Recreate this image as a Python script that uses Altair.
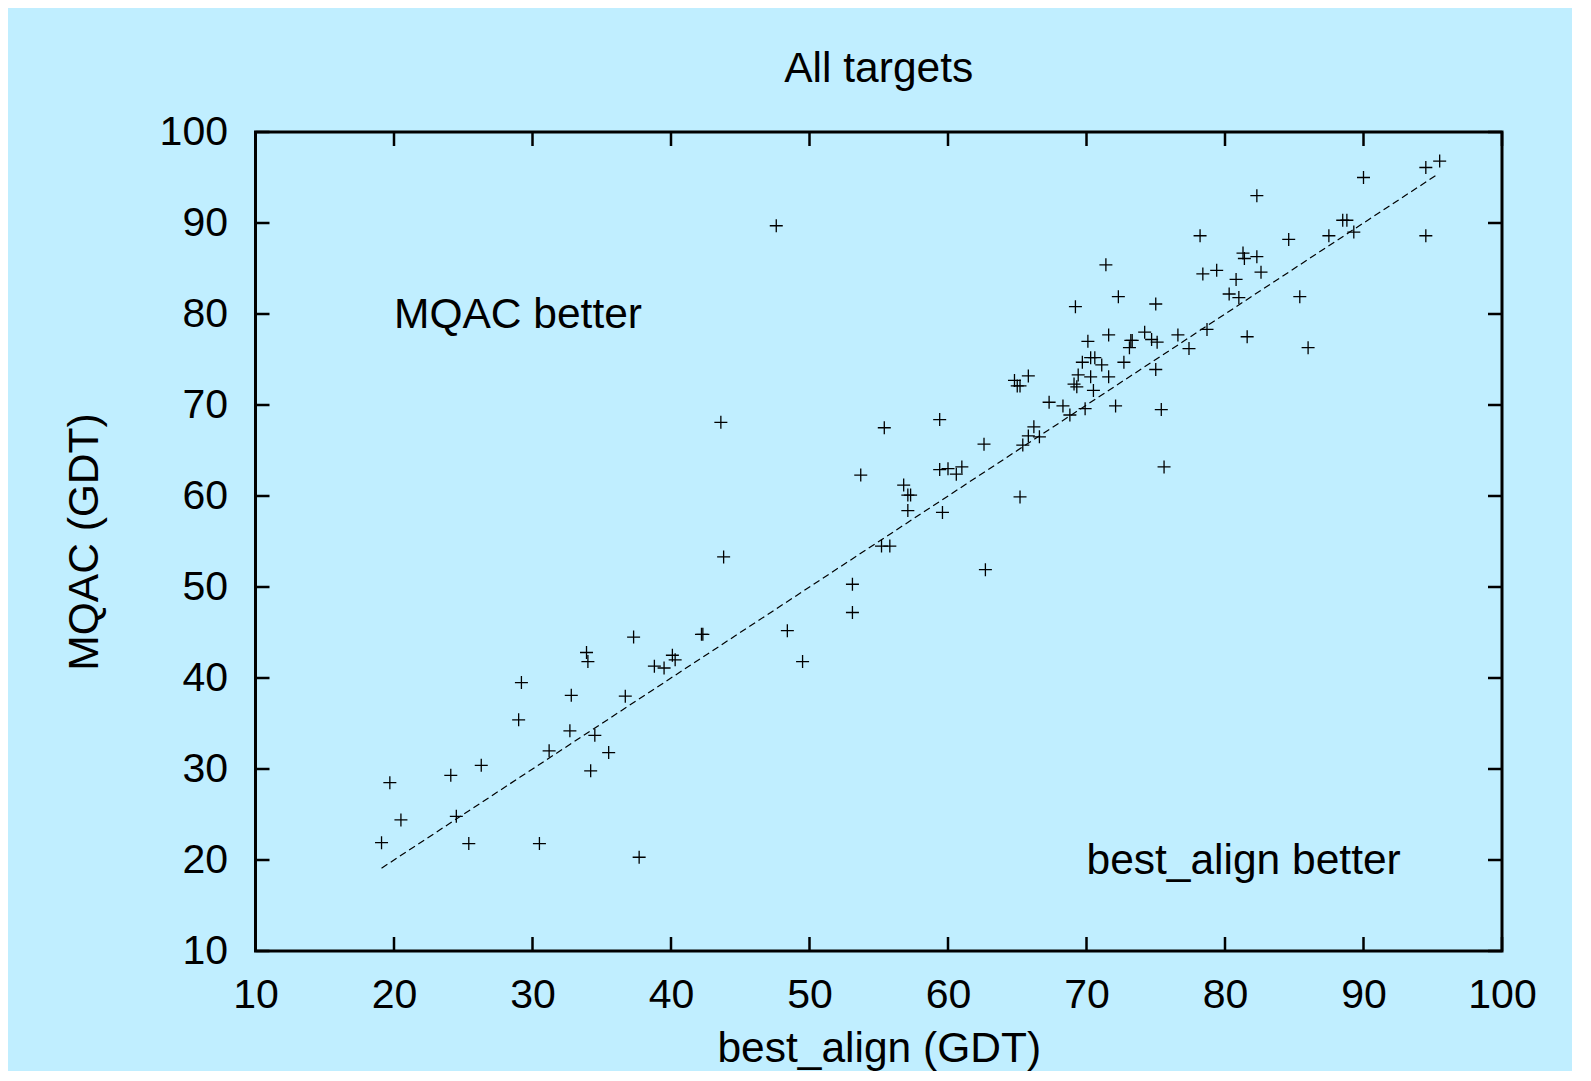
import altair as alt
import pandas as pd

# ---- data ----
best_align = [47.6, 71.4, 72.3, 69.2, 75.0, 78.2, 78.4, 79.4, 80.8, 80.3, 81.0, 81.3, 81.4, 82.3, 82.3,
              81.6, 78.7, 77.4, 76.6, 75.0, 75.4, 75.6, 72.1, 74.2, 74.7, 75.1, 73.3, 73.2, 73.1, 72.7,
              71.6, 70.1, 70.3, 70.6, 71.1, 69.7, 69.4, 70.3, 71.6, 69.1, 69.3, 70.5, 67.3, 68.3, 68.8,
              69.9, 64.8, 65.0, 65.2, 65.8, 66.2, 65.8, 66.6, 65.4, 62.6, 59.4, 55.4, 53.7, 56.8, 57.1,
              57.3, 57.1, 59.6, 59.4, 60.0, 60.6, 61.0, 65.2, 84.6, 87.5, 88.5, 88.8, 89.3, 90.0, 94.5,
              95.5, 94.5, 85.4, 86.0, 82.6, 43.8, 37.3, 42.2, 42.3, 33.9, 34.0, 40.1, 40.3, 38.8, 39.5,
              29.2, 32.8, 36.7, 29.0, 32.7, 34.5, 31.2, 35.5, 34.2, 26.3, 24.1, 19.7, 20.5, 24.5, 19.1,
              25.4, 30.5, 37.7, 55.2, 55.8, 62.7, 53.1, 53.1, 48.4, 49.5, 43.6]
mqac = [89.7, 85.4, 81.9, 80.8, 81.1, 88.6, 84.4, 84.8, 83.8, 82.2, 81.8, 86.7, 86.1, 86.3, 93.0,
        77.5, 78.3, 76.2, 77.7, 73.9, 69.5, 63.2, 69.9, 78.0, 77.2, 76.9, 77.1, 77.1, 76.3, 74.7,
        77.7, 77.0, 75.2, 75.2, 74.4, 74.7, 73.3, 73.1, 73.1, 72.3, 72.0, 71.6, 70.3, 69.9, 68.9,
        69.6, 72.7, 72.1, 72.1, 73.2, 67.6, 66.6, 66.5, 65.6, 65.7, 68.4, 67.5, 62.3, 61.2, 60.1,
        60.1, 58.4, 58.2, 62.9, 63.0, 62.4, 63.2, 59.9, 88.2, 88.6, 90.3, 90.3, 89.0, 95.0, 96.1,
        96.8, 88.6, 81.9, 76.3, 84.6, 53.3, 44.5, 44.8, 44.8, 42.8, 41.8, 42.5, 42.0, 41.3, 41.1,
        39.5, 38.1, 38.0, 35.4, 34.2, 33.7, 32.0, 31.8, 29.8, 30.4, 29.3, 28.5, 24.4, 24.8, 21.9,
        21.8, 21.8, 20.3, 54.5, 54.5, 51.9, 50.3, 47.2, 45.2, 41.8, 68.1]

diag_ends = [19.1, 95.3]                      # dashed y = x reference line
tick_values = [10, 20, 30, 40, 50, 60, 70, 80, 90, 100]
ann_labels = ["MQAC better", "best_align better"]
ann_x = [20.0, 70.0]
ann_y = [78.5, 18.5]

# ---- layout / style ----
W, H = 1246.5, 819
TICK = 14
FONT = "Liberation Sans"
BG = "#C0EEFF"
TXT = 42.5

pts = pd.DataFrame({"x": best_align, "y": mqac})
diag = pd.DataFrame({"x": diag_ends, "y": diag_ends})
ann = pd.DataFrame({"x": ann_x, "y": ann_y, "label": ann_labels})
ticks = pd.DataFrame({"x": tick_values, "y": tick_values})

xs = alt.Scale(domain=[10, 100], nice=False, zero=False)
ys = alt.Scale(domain=[10, 100], nice=False, zero=False)

x_axis = alt.Axis(values=tick_values, title="best_align (GDT)", grid=False, domain=False,
                  ticks=False, tickSize=0, labelFontSize=41, labelFont=FONT, labelColor="black",
                  labelPadding=24, titleFontSize=TXT, titleFont=FONT, titleFontWeight="normal",
                  titleColor="black", titleY=110, titleBaseline="alphabetic", labelFlush=False)
y_axis = alt.Axis(values=tick_values, title="MQAC (GDT)", grid=False, domain=False,
                  ticks=False, tickSize=0, labelFontSize=41, labelFont=FONT, labelColor="black",
                  labelPadding=28, titleFontSize=TXT, titleFont=FONT, titleFontWeight="normal",
                  titleColor="black", titleAngle=270, titleX=-171, titleY=H / 2,
                  titleBaseline="middle", titleAlign="center", labelFlush=False)

X = alt.X("x:Q", scale=xs, axis=x_axis, title="best_align (GDT)")
Y = alt.Y("y:Q", scale=ys, axis=y_axis, title="MQAC (GDT)")

points = alt.Chart(pts).mark_point(
    shape="M-1,0L1,0M0,-1L0,1", size=169, filled=False, color="black",
    strokeWidth=1.3, opacity=1
).encode(x=X, y=Y)

line = alt.Chart(diag).mark_line(color="black", strokeWidth=1.2, strokeDash=[7, 4]).encode(x=X, y=Y)

text = alt.Chart(ann).mark_text(
    align="left", baseline="alphabetic", fontSize=TXT, font=FONT, color="black"
).encode(x=X, y=Y, text="label:N")

rule_style = dict(color="black", strokeWidth=2.5)
tick_bottom = alt.Chart(ticks).mark_rule(**rule_style).encode(x=X, y=alt.value(H), y2=alt.value(H - TICK))
tick_top = alt.Chart(ticks).mark_rule(**rule_style).encode(x=X, y=alt.value(0), y2=alt.value(TICK))
tick_left = alt.Chart(ticks).mark_rule(**rule_style).encode(y=Y, x=alt.value(0), x2=alt.value(TICK))
tick_right = alt.Chart(ticks).mark_rule(**rule_style).encode(y=Y, x=alt.value(W), x2=alt.value(W - TICK))

chart = alt.layer(
    line, points, text, tick_bottom, tick_top, tick_left, tick_right
).properties(
    width=W, height=H,
    autosize="none",
    padding={"left": 247.5, "top": 124, "right": 70, "bottom": 120},
    title=alt.Title("All targets", fontSize=TXT, font=FONT, fontWeight="normal",
                    color="black", anchor="middle", offset=21),
    background=BG,
).configure_view(
    stroke="black", strokeWidth=3
)

chart.save("out.html", embed_options={"renderer": "svg", "actions": False})
